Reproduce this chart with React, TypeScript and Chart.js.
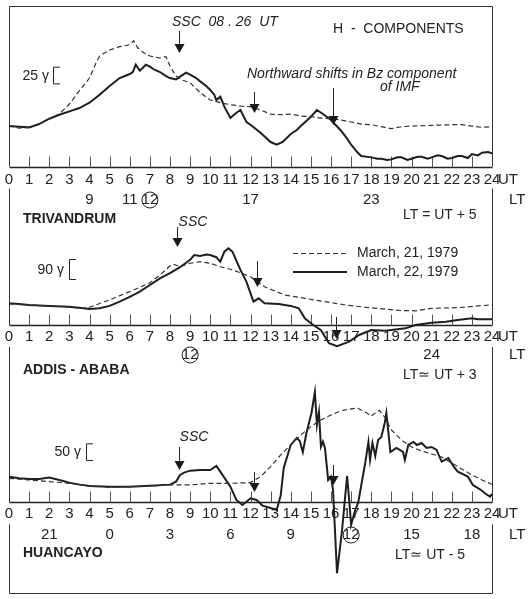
import React, { useEffect, useRef } from 'react';
import { Chart, registerables } from 'chart.js';

Chart.register(...registerables);

const W = 531;
const H = 599;
const FF = '"Liberation Sans", Arial, Helvetica, sans-serif';

// ---------- data (hours UT, H-component in gamma relative to panel baseline) ----------
const utTicks = [0, 1, 2, 3, 4, 5, 6, 7, 8, 9, 10, 11, 12, 13, 14, 15, 16, 17, 18, 19, 20, 21, 22, 23, 24];

const trivandrumMar21: [number, number][] = [
  [0, 61], [0.5, 58], [1, 59], [1.5, 64], [2, 72], [2.5, 79], [3, 94], [3.5, 114], [4, 133], [4.3, 154],
  [4.5, 166], [5, 175], [5.5, 180], [6, 183], [6.2, 189], [6.4, 178], [6.7, 171], [7, 166], [7.5, 163],
  [7.8, 165], [8, 151], [8.3, 136], [8.6, 130], [9, 126], [9.5, 111], [10, 100], [10.5, 96], [11, 93],
  [11.5, 91], [12, 90], [12.5, 85], [13, 79], [13.5, 78], [14, 79], [14.5, 76], [15, 75], [15.5, 73],
  [16, 72], [16.5, 70], [17, 67], [17.5, 64], [18, 63], [18.5, 60], [19, 57], [19.5, 60], [20, 61],
  [21, 62], [22, 63], [22.5, 63], [23, 61], [23.5, 59], [24, 60],
];
const trivandrumMar22: [number, number][] = [
  [0, 61], [0.5, 60], [1, 59], [1.5, 64], [2, 72], [2.5, 78], [3, 83], [3.5, 88], [4, 96], [4.5, 108],
  [5, 121], [5.5, 133], [6, 139], [6.15, 142], [6.3, 153], [6.5, 144], [6.8, 153], [7, 150], [7.2, 146],
  [7.5, 142], [7.8, 136], [8, 133], [8.3, 131], [8.5, 135], [8.8, 141], [9, 138], [9.3, 133], [9.5, 128],
  [9.8, 121], [10, 115], [10.2, 108], [10.3, 100], [10.5, 105], [10.7, 90], [11, 73], [11.3, 81],
  [11.5, 85], [11.8, 67], [12, 63], [12.5, 51], [13, 37], [13.3, 33], [13.6, 37], [14, 49], [14.3, 55],
  [14.5, 61], [15, 75], [15.3, 85], [15.6, 79], [16, 70], [16.5, 54], [16.8, 42], [17, 33], [17.3, 22],
  [17.5, 16], [18, 14], [18.3, 12], [18.5, 12], [18.8, 10], [19, 11], [19.3, 14], [19.5, 14], [19.8, 10],
  [20, 12], [20.3, 15], [20.5, 15], [20.8, 12], [21, 14], [21.3, 17], [21.5, 16], [21.8, 12], [22, 13],
  [22.3, 16], [22.5, 16], [22.8, 13], [23, 19], [23.3, 17], [23.5, 21], [23.8, 22], [24, 20],
];

const addisMar21: [number, number][] = [
  [0, 95], [1, 90], [2, 86], [3, 80], [3.7, 75], [4, 80], [5, 113], [6, 150], [7, 190], [7.5, 225],
  [8, 266], [8.2, 273], [8.5, 262], [9, 278], [9.5, 285], [10, 278], [10.5, 262], [11, 251], [11.5, 235],
  [12, 217], [12.7, 172], [13.7, 135], [14.7, 120], [15.7, 105], [16.7, 90], [17.7, 80], [18.7, 71],
  [19.5, 65], [20.2, 64], [21, 75], [22.3, 78], [23.3, 86], [24, 90],
];
const addisMar22: [number, number][] = [
  [0, 98], [0.5, 95], [1, 90], [2, 86], [3, 82], [3.7, 75], [4, 72], [4.5, 75], [5, 86], [5.5, 105],
  [6, 127], [6.5, 150], [7, 180], [7.5, 210], [8, 233], [8.5, 260], [9, 293], [9.2, 315], [9.5, 311],
  [9.8, 317], [10, 315], [10.3, 305], [10.5, 285], [10.7, 330], [10.9, 345], [11.1, 330], [11.5, 248],
  [11.8, 194], [12, 143], [12.15, 105], [12.4, 120], [12.7, 98], [13.4, 95], [14, 86], [14.4, 75],
  [14.7, 30], [15, 8], [15.5, -23], [15.9, -82], [16.3, -95], [16.9, -75], [17.4, -45], [18, -23],
  [18.7, -26], [19.7, -15], [20.2, 0], [21, 10], [21.7, 15], [22.3, 23], [23, 30], [23.3, 26], [24, 26],
];

const huancayoMar21: [number, number][] = [
  [0, 72], [1, 67], [2, 62], [3, 57], [4, 49], [5, 45], [6, 47], [7, 49], [8, 52], [9, 52], [10, 57],
  [11, 57], [12, 59], [12.5, 77], [13, 107], [13.5, 142], [14, 172], [14.5, 202], [15, 227], [15.5, 247],
  [16, 262], [16.5, 275], [17, 280], [17.3, 283], [17.7, 271], [18, 259], [18.4, 276], [18.7, 253],
  [19, 217], [19.5, 187], [20, 166], [20.5, 154], [21, 145], [21.5, 136], [22, 118], [22.5, 100],
  [23, 82], [23.5, 67], [24, 54],
];
const huancayoMar22: [number, number][] = [
  [0, 77], [0.5, 72], [1, 70], [1.5, 70], [2, 74], [2.5, 67], [3, 59], [3.5, 53], [4, 49], [5, 47],
  [6, 47], [7, 50], [8, 53], [8.3, 62], [8.5, 82], [8.7, 89], [9, 95], [9.5, 97], [10, 97], [10.3, 109],
  [10.5, 92], [11, 47], [11.3, 7], [11.6, -8], [12, 12], [12.3, 7], [12.6, -10], [13, -17], [13.3, -23],
  [13.5, 20], [13.65, 103], [13.8, 133], [14, 172], [14.3, 193], [14.45, 184], [14.6, 151], [14.78, 208],
  [15.03, 268], [15.2, 331], [15.3, 232], [15.4, 271], [15.5, 167], [15.6, 182], [15.7, 163], [15.86, 67],
  [16, 77], [16.1, 37], [16.3, -213], [16.55, -83], [16.8, 79], [16.9, 10], [17, -68], [17.2, -23],
  [17.35, -2], [17.55, 67], [17.7, 118], [17.86, 181], [17.94, 127], [18.06, 178], [18.2, 139],
  [18.34, 187], [18.5, 196], [18.67, 238], [18.75, 268], [18.84, 217], [18.95, 151], [19.25, 163],
  [19.58, 151], [19.67, 127], [19.84, 172], [20.1, 181], [20.27, 172], [20.5, 178], [20.75, 163],
  [21, 166], [21.25, 157], [21.35, 142], [21.5, 122], [21.83, 133], [22.1, 107], [22.3, 92], [22.8, 77],
  [23.05, 52], [23.45, 37], [23.7, 25], [23.9, 17], [24, 25],
];

const ltTrivandrum: [number, string][] = [[4, '9'], [6, '11'], [7, '12'], [12, '17'], [18, '23']];
const ltAddis: [number, string][] = [[9, '12'], [21, '24']];
const ltHuancayo: [number, string][] = [[2, '21'], [5, '0'], [8, '3'], [11, '6'], [14, '9'], [17, '12'], [20, '15'], [23, '18']];
const circledLT = '12';

const arrowsTrivandrum = [8.43, 12.15, 16.1];
const arrowsAddis = [8.35, 12.3, 16.25];
const arrowsHuancayo = [8.45, 12.15, 16.1];

const stations = ['TRIVANDRUM', 'ADDIS - ABABA', 'HUANCAYO'];
const ltRelations = ['LT = UT + 5', 'LT\u2243 UT + 3', 'LT\u2243 UT - 5'];
const scaleBarsGamma = [25, 90, 50];
const seriesNames = ['March, 21, 1979', 'March, 22, 1979'];

// ---------- layout (pixels) ----------
const PANELS = [
  {
    axis: 'y1', basePx: 166.7, gPerPx: 1.5, tickY: 180, ltY: 200, lt: ltTrivandrum,
    arrows: arrowsTrivandrum, arrowY: [[31, 53], [92, 113], [88, 125]],
    barBottom: 125, barX: 53, barTextX: 49, station: 0, stationY: 219, relX: 403, relY: 215,
  },
  {
    axis: 'y2', basePx: 325, gPerPx: 4.5, tickY: 337, ltY: 355, lt: ltAddis,
    arrows: arrowsAddis, arrowY: [[227, 247], [261, 287], [317, 339]],
    barBottom: 207, barX: 69, barTextX: 64, station: 1, stationY: 370, relX: 403, relY: 375,
  },
  {
    axis: 'y3', basePx: 502.3, gPerPx: 3, tickY: 514, ltY: 535, lt: ltHuancayo,
    arrows: arrowsHuancayo, arrowY: [[447, 470], [472, 492], [465, 485]],
    barBottom: 127, barX: 86, barTextX: 81, station: 2, stationY: 553, relX: 395, relY: 555,
  },
];

function txt(ctx: CanvasRenderingContext2D, s: string, x: number, y: number, font: string, align: CanvasTextAlign = 'left') {
  ctx.font = font;
  ctx.textAlign = align;
  ctx.textBaseline = 'middle';
  ctx.fillStyle = '#222';
  ctx.fillText(s, x, y);
}

function arrow(ctx: CanvasRenderingContext2D, x: number, y0: number, y1: number) {
  ctx.strokeStyle = '#222';
  ctx.lineWidth = 1;
  ctx.beginPath();
  ctx.moveTo(x, y0);
  ctx.lineTo(x, y1 - 7);
  ctx.stroke();
  ctx.fillStyle = '#1a1a1a';
  ctx.beginPath();
  ctx.moveTo(x - 5, y1 - 9);
  ctx.lineTo(x + 5, y1 - 9);
  ctx.lineTo(x, y1);
  ctx.closePath();
  ctx.fill();
}

const decor = {
  id: 'decor',
  beforeDatasetsDraw(chart: any) {
    const ctx: CanvasRenderingContext2D = chart.ctx;
    const xs = chart.scales.x;
    const x0 = Math.round(xs.getPixelForValue(0)) + 0.5;
    const x24 = Math.round(xs.getPixelForValue(24)) + 0.5;
    ctx.save();
    const bases = PANELS.map((p) => chart.scales[p.axis].getPixelForValue(0));

    // outer frame
    ctx.strokeStyle = '#333';
    ctx.lineWidth = 1;
    ctx.beginPath();
    ctx.moveTo(x0, 6.5); ctx.lineTo(x24, 6.5);
    ctx.moveTo(x0, 593.5); ctx.lineTo(x24, 593.5);
    const segs = [[6.5, bases[0]], [bases[0] + 22, bases[1]], [bases[1] + 22, bases[2]], [bases[2] + 22, 593.5]];
    for (const [a, b] of segs) {
      ctx.moveTo(x0, a); ctx.lineTo(x0, b);
      ctx.moveTo(x24, a); ctx.lineTo(x24, b);
    }
    ctx.stroke();

    PANELS.forEach((p, i) => {
      const ys = chart.scales[p.axis];
      const by = Math.round(bases[i]) + 0.5;
      // axis line
      ctx.strokeStyle = '#222';
      ctx.lineWidth = 1.3;
      ctx.beginPath();
      ctx.moveTo(x0, by); ctx.lineTo(x24, by);
      ctx.stroke();
      // tick marks
      ctx.strokeStyle = '#555';
      ctx.lineWidth = 1;
      ctx.beginPath();
      for (const h of utTicks) {
        if (h === 0 || h === 24) continue;
        const x = Math.round(xs.getPixelForValue(h)) + 0.5;
        ctx.moveTo(x, by); ctx.lineTo(x, by - 11);
      }
      ctx.stroke();
      // UT labels
      for (const h of utTicks) {
        txt(ctx, String(h), xs.getPixelForValue(h), p.tickY, `15px ${FF}`, 'center');
      }
      txt(ctx, 'UT', 498, p.tickY, `15px ${FF}`);
      // LT labels
      for (const [h, s] of p.lt) {
        const x = xs.getPixelForValue(h);
        txt(ctx, s, x, p.ltY, `15px ${FF}`, 'center');
        if (s === circledLT) {
          ctx.strokeStyle = '#222';
          ctx.lineWidth = 1;
          ctx.beginPath();
          ctx.arc(x, p.ltY, 8, 0, Math.PI * 2);
          ctx.stroke();
        }
      }
      txt(ctx, 'LT', 509, p.ltY, `15px ${FF}`);
      // station & LT relation
      txt(ctx, stations[p.station], 23, p.stationY, `bold 14px ${FF}`);
      txt(ctx, ltRelations[p.station], p.relX, p.relY, `14px ${FF}`);
      // scale bar
      const g = scaleBarsGamma[i];
      const yb = ys.getPixelForValue(p.barBottom);
      const yt = ys.getPixelForValue(p.barBottom + g);
      ctx.strokeStyle = '#222';
      ctx.lineWidth = 1;
      ctx.beginPath();
      ctx.moveTo(p.barX + 7, yt + 0.5); ctx.lineTo(p.barX + 0.5, yt + 0.5);
      ctx.lineTo(p.barX + 0.5, yb + 0.5); ctx.lineTo(p.barX + 7, yb + 0.5);
      ctx.stroke();
      txt(ctx, `${g} \u03b3`, p.barTextX, (yt + yb) / 2 + 1, `14px ${FF}`, 'right');
    });

    // annotations
    txt(ctx, 'SSC  08 . 26  UT', 172, 22, `italic 14px ${FF}`);
    txt(ctx, 'H  -  COMPONENTS', 333, 29, `14px ${FF}`);
    txt(ctx, 'Northward shifts in Bz component', 247, 74, `italic 14px ${FF}`);
    txt(ctx, 'of IMF', 380, 87, `italic 14px ${FF}`);
    txt(ctx, 'SSC', 193, 222, `italic 14px ${FF}`, 'center');
    txt(ctx, 'SSC', 194, 437, `italic 14px ${FF}`, 'center');

    // legend
    ctx.strokeStyle = '#333';
    ctx.lineWidth = 1.2;
    ctx.setLineDash([5, 3]);
    ctx.beginPath();
    ctx.moveTo(293, 253.5); ctx.lineTo(347, 253.5);
    ctx.stroke();
    ctx.setLineDash([]);
    ctx.strokeStyle = '#1e1e1e';
    ctx.lineWidth = 2;
    ctx.beginPath();
    ctx.moveTo(293, 272); ctx.lineTo(347, 272);
    ctx.stroke();
    txt(ctx, seriesNames[0], 357, 253, `14px ${FF}`);
    txt(ctx, seriesNames[1], 357, 272, `14px ${FF}`);
    ctx.restore();
  },
  afterDatasetsDraw(chart: any) {
    const ctx: CanvasRenderingContext2D = chart.ctx;
    const xs = chart.scales.x;
    ctx.save();
    PANELS.forEach((p) => {
      p.arrows.forEach((h, j) => {
        const x = Math.round(xs.getPixelForValue(h)) + 0.5;
        arrow(ctx, x, p.arrowY[j][0], p.arrowY[j][1]);
      });
    });
    ctx.restore();
  },
};

function toPts(a: [number, number][]) {
  return a.map(([x, y]) => ({ x, y }));
}

function yRange(basePx: number, gPerPx: number) {
  return { min: (basePx - H) * gPerPx, max: basePx * gPerPx };
}

export default function App() {
  const ref = useRef<HTMLCanvasElement>(null);
  useEffect(() => {
    if (!ref.current) return;
    const dashed = { borderColor: '#333', borderWidth: 1.2, borderDash: [5, 3], pointRadius: 0, tension: 0, fill: false };
    const solid = { borderColor: '#1e1e1e', borderWidth: 2, pointRadius: 0, tension: 0, fill: false };
    const series: [string, [number, number][], string, any][] = [
      ['Trivandrum 21', trivandrumMar21, 'y1', dashed],
      ['Trivandrum 22', trivandrumMar22, 'y1', solid],
      ['Addis 21', addisMar21, 'y2', dashed],
      ['Addis 22', addisMar22, 'y2', solid],
      ['Huancayo 21', huancayoMar21, 'y3', dashed],
      ['Huancayo 22', huancayoMar22, 'y3', solid],
    ];
    const r1 = yRange(PANELS[0].basePx, PANELS[0].gPerPx);
    const r2 = yRange(PANELS[1].basePx, PANELS[1].gPerPx);
    const r3 = yRange(PANELS[2].basePx, PANELS[2].gPerPx);
    const chart = new Chart(ref.current, {
      type: 'line',
      data: {
        datasets: series.map(([label, d, axis, st]) => ({
          label, data: toPts(d), xAxisID: 'x', yAxisID: axis, ...st,
        })),
      },
      options: {
        responsive: false,
        animation: false,
        devicePixelRatio: 1,
        layout: { padding: { left: 9, right: 39, top: 0, bottom: 0 } },
        plugins: { legend: { display: false }, tooltip: { enabled: false } },
        events: [],
        scales: {
          x: { type: 'linear', min: 0, max: 24, display: false },
          y1: { type: 'linear', display: false, ...r1 },
          y2: { type: 'linear', display: false, ...r2 },
          y3: { type: 'linear', display: false, ...r3 },
        },
      },
      plugins: [decor],
    } as any);
    return () => chart.destroy();
  }, []);
  return (
    <div style={{ position: 'absolute', left: 0, top: 0, width: W, height: H, background: '#fff' }}>
      <canvas ref={ref} width={W} height={H} style={{ display: 'block' }} />
    </div>
  );
}
